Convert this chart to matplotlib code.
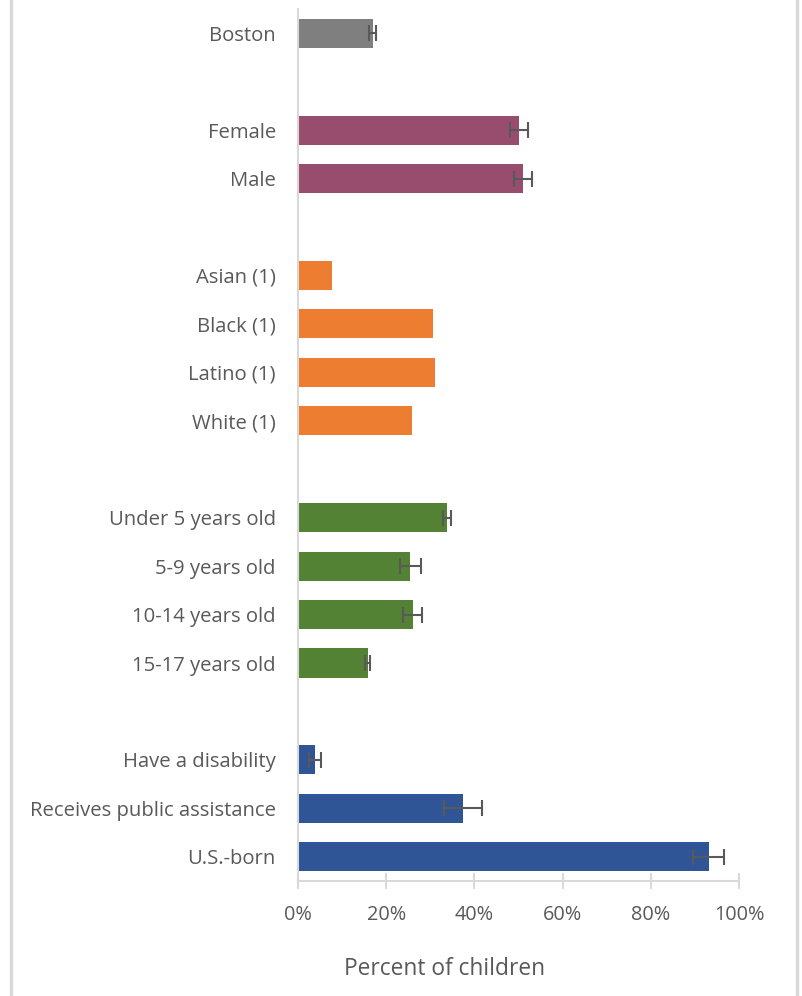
import matplotlib
matplotlib.use("Agg")
import matplotlib.pyplot as plt
from matplotlib.lines import Line2D

# categories from top to bottom, "" = spacer row between groups
labels = ["Boston", "",
          "Female", "Male", "",
          "Asian (1)", "Black (1)", "Latino (1)", "White (1)", "",
          "Under 5 years old", "5-9 years old", "10-14 years old", "15-17 years old", "",
          "Have a disability", "Receives public assistance", "U.S.-born"]
values = [16.9, None,
          50.1, 51.0, None,
          7.8, 30.5, 31.0, 25.8, None,
          33.8, 25.5, 26.0, 15.8, None,
          3.9, 37.4, 93.1]
errors = [0.8, None,
          2.1, 2.0, None,
          None, None, None, None, None,
          1.0, 2.3, 2.1, 0.6, None,
          1.3, 4.3, 3.5]
groups = ["boston", None,
          "sex", "sex", None,
          "race", "race", "race", "race", None,
          "age", "age", "age", "age", None,
          "other", "other", "other"]
group_colors = {"boston": "#7f7f7f", "sex": "#984d6f", "race": "#ed7d31",
                "age": "#548235", "other": "#2f5597"}

plt.rcParams["font.family"] = ["Open Sans", "DejaVu Sans"]

fig = plt.figure(figsize=(8.02, 9.96), dpi=100)
ax = fig.add_axes([298 / 802, 1 - 881 / 996, 441 / 802, 872 / 996])

for i, (v, e, g) in enumerate(zip(values, errors, groups)):
    if v is None:
        continue
    ax.barh(i, v, height=0.6, color=group_colors[g], zorder=2)
    if e is not None:
        ax.errorbar(v, i, xerr=e, fmt="none", ecolor="#595959", elinewidth=1.5,
                    capsize=6, capthick=1.5, zorder=3)

ax.set_ylim(len(labels) - 0.5, -0.5)
ax.set_xlim(0, 100)
ax.set_yticks(range(len(labels)))
ax.set_yticklabels(labels)
ax.set_xticks([0, 20, 40, 60, 80, 100])
ax.set_xticklabels(["0%", "20%", "40%", "60%", "80%", "100%"])

for s in ["top", "right"]:
    ax.spines[s].set_visible(False)
for s in ["left", "bottom"]:
    ax.spines[s].set_color("#d9d9d9")
    ax.spines[s].set_linewidth(1.5)

ax.tick_params(axis="y", length=0, pad=16, labelsize=14.6, labelcolor="#595959")
ax.tick_params(axis="x", direction="inout", length=12, width=1.5, color="#d9d9d9",
               pad=11, labelsize=14.3, labelcolor="#595959")
ax.set_xlabel("Percent of children", fontsize=16.4, color="#595959")
ax.xaxis.set_label_coords(0.333, -0.087)

# light frame around the chart
for x in [10.5 / 802, 796.5 / 802]:
    fig.add_artist(Line2D([x, x], [0, 1], color="#d9d9d9", linewidth=2.5,
                          transform=fig.transFigure))

fig.savefig("out.png", dpi=100, facecolor="white")
